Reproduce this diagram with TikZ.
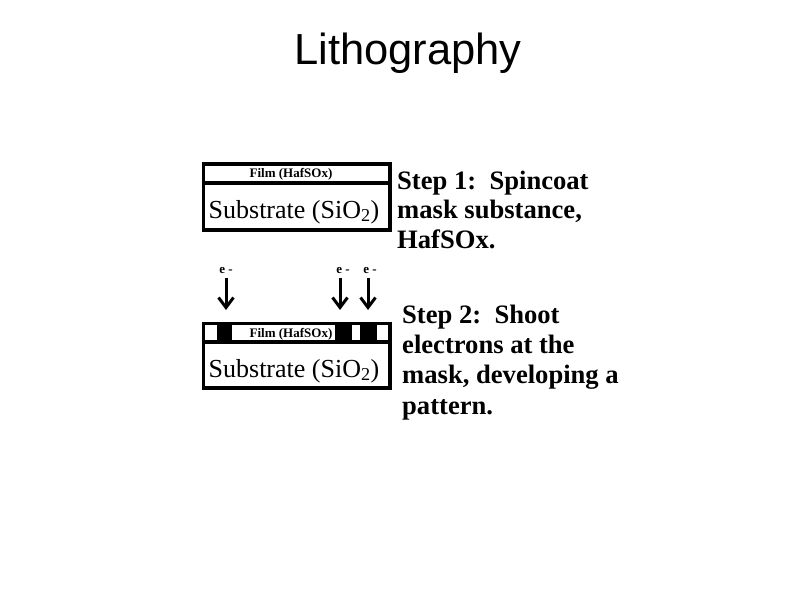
\documentclass[tikz,border=0pt]{standalone}
\usepackage{fontspec}
\setmainfont{Liberation Serif}
\newfontfamily\arialfont{Liberation Sans}
\usetikzlibrary{arrows.meta}
\begin{document}
\begin{tikzpicture}[x=1pt,y=-1pt,
  boxline/.style={line width=3.5pt},
  txt/.style={inner sep=0pt,anchor=base west},
  steptxt/.style={txt,font=\fontsize{26.6}{30}\selectfont\bfseries},
  filmtxt/.style={inner sep=0pt,anchor=base,font=\fontsize{13}{15}\selectfont\bfseries},
  subtxt/.style={inner sep=0pt,anchor=base,font=\fontsize{26}{28}\selectfont},
  elabel/.style={inner sep=0pt,anchor=base,font=\fontsize{13}{15}\selectfont\bfseries},
  earrow/.style={line width=3pt,-{Straight Barb[length=10pt,width=15pt]}},
  blockfill/.style={fill=black,draw=none}]
\useasboundingbox (0,0) rectangle (800,600);
% title
\node[inner sep=0pt,anchor=base,font=\arialfont\fontsize{43.5}{46}\selectfont] (title) at (408,64) {Lithography};
% step 1 box
\draw[boxline] (203.5,164) rectangle (390,230);
\draw[boxline] (203.5,183) -- (390,183);
\node[filmtxt] (film1) at (291,177.5) {Film (HafSOx)};
\node[subtxt] (sub1) at (294,218) {Substrate (SiO\textsubscript{2})};
% step 1 text
\node[steptxt] (s1a) at (397,189) {Step 1:\ \ Spincoat};
\node[steptxt] (s1b) at (397,218.5) {mask substance,};
\node[steptxt] (s1c) at (397,248) {HafSOx.};
% step 2 box
\fill[blockfill] (217,323.5) rectangle (232,342);
\fill[blockfill] (335,323.5) rectangle (352,342);
\fill[blockfill] (360,323.5) rectangle (377,342);
\draw[boxline] (203.5,323.5) rectangle (390,388);
\draw[boxline] (203.5,342) -- (390,342);
\node[filmtxt] (film2) at (291,337) {Film (HafSOx)};
\node[subtxt] (sub2) at (294,377) {Substrate (SiO\textsubscript{2})};
% electrons
\node[elabel] (e1) at (226,273) {e -};
\node[elabel] (e2) at (343,273) {e -};
\node[elabel] (e3) at (370,273) {e -};
\coordinate (t1) at (226,310);
\coordinate (t2) at (340,310);
\coordinate (t3) at (368,310);
\draw[earrow] ([yshift=-5pt]e1.south -| t1) -- (t1);
\draw[earrow] ([yshift=-5pt]e2.south -| t2) -- (t2);
\draw[earrow] ([yshift=-5pt]e3.south -| t3) -- (t3);
% step 2 text
\node[steptxt] (s2a) at (402,323) {Step 2:\ \ Shoot};
\node[steptxt] (s2b) at (402,353.3) {electrons at the};
\node[steptxt] (s2c) at (402,383.6) {mask, developing a};
\node[steptxt] (s2d) at (402,414) {pattern.};
\end{tikzpicture}
\end{document}
